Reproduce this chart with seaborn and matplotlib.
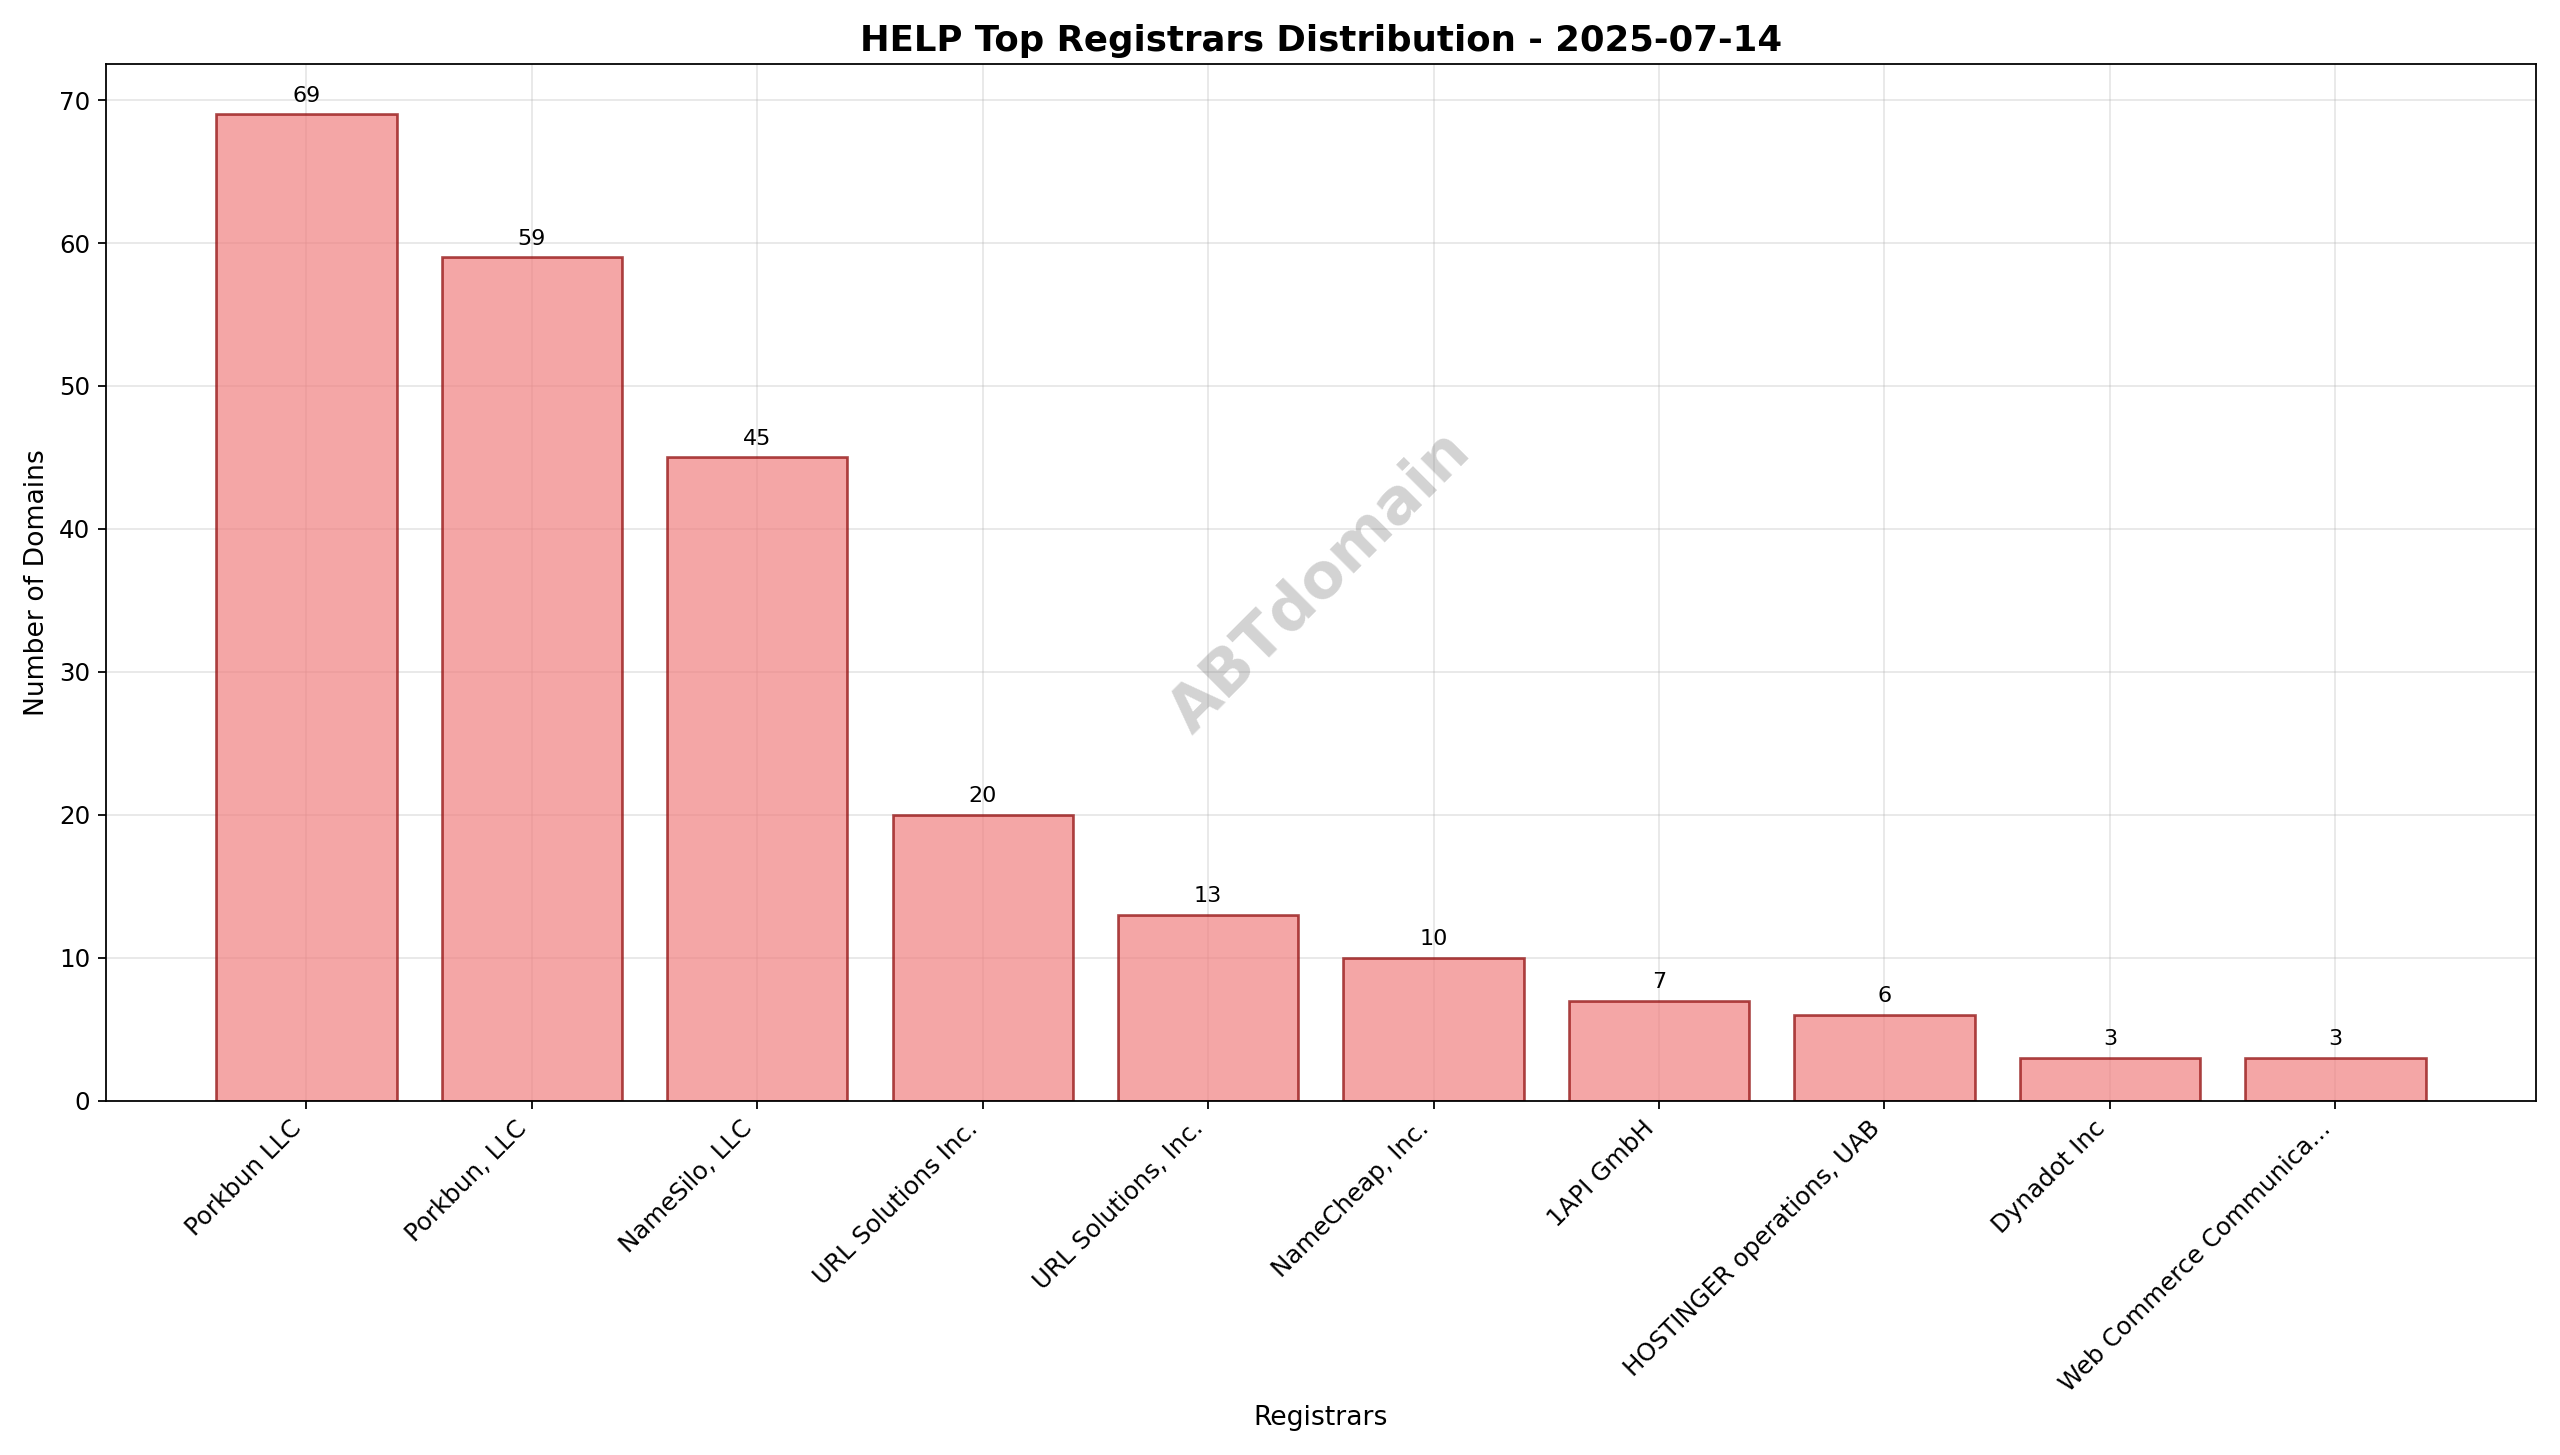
import matplotlib
matplotlib.use("Agg")
import matplotlib.pyplot as plt
import seaborn as sns

registrars = ['Porkbun LLC', 'Porkbun, LLC', 'NameSilo, LLC', 'URL Solutions Inc.',
              'URL Solutions, Inc.', 'NameCheap, Inc.', '1API GmbH',
              'HOSTINGER operations, UAB', 'Dynadot Inc', 'Web Commerce Communica...']
counts = [69, 59, 45, 20, 13, 10, 7, 6, 3, 3]

fig, ax = plt.subplots(figsize=(16, 9.09375), dpi=160)
sns.barplot(x=registrars, y=counts, ax=ax, color='lightcoral', alpha=0.7,
            edgecolor='darkred', linewidth=1.2, width=0.8, saturation=1)
for i, v in enumerate(counts):
    ax.text(i, v + 0.6, str(v), ha='center', va='bottom', fontsize=10)

ax.set_title('HELP Top Registrars Distribution - 2025-07-14', fontsize=16, fontweight='bold')
ax.set_xlabel('Registrars', fontsize=12)
ax.set_ylabel('Number of Domains', fontsize=12)
ax.set_ylim(0, 72.5)
ax.set_xlim(-0.89, 9.89)
plt.xticks(rotation=45, ha='right', fontsize=11)
plt.yticks(fontsize=11)
ax.grid(True, alpha=0.3)
ax.set_axisbelow(True)
ax.text(0.5, 0.5, 'ABTdomain', transform=ax.transAxes, fontsize=28, color='gray',
        alpha=0.35, rotation=45, ha='center', va='center', fontweight='bold')

plt.tight_layout()
plt.savefig('out.png', dpi=160)
